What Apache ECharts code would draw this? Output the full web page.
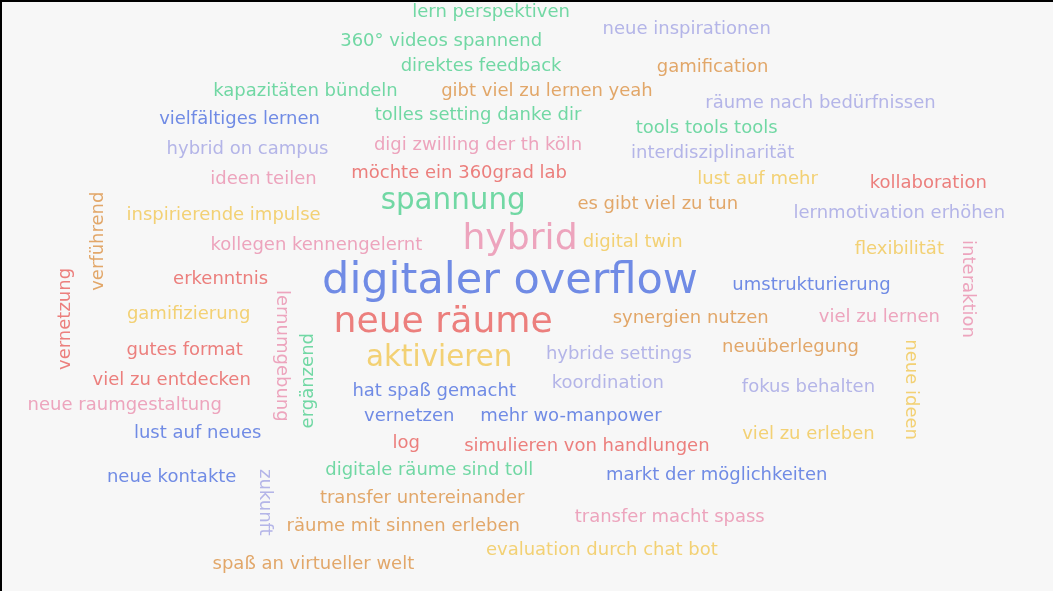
<!DOCTYPE html>
<html>
<head>
<meta charset="utf-8">
<script src="https://cdn.jsdelivr.net/npm/echarts@6/dist/echarts.min.js"></script>
<style>
html,body{margin:0;padding:0;background:#000;width:1053px;height:591px;overflow:hidden;}
#c{position:absolute;left:2px;top:2px;width:1051px;height:589px;background:#f7f7f7;filter:blur(0.7px);}
</style>
</head>
<body>
<div id="c"></div>
<script>
// words of the cloud
const words = [
 "lern perspektiven","neue inspirationen","360° videos spannend","direktes feedback","gamification",
 "kapazitäten bündeln","gibt viel zu lernen yeah","räume nach bedürfnissen","vielfältiges lernen","tolles setting danke dir",
 "tools tools tools","digi zwilling der th köln","hybrid on campus","interdisziplinarität","möchte ein 360grad lab",
 "ideen teilen","lust auf mehr","kollaboration","spannung","es gibt viel zu tun",
 "inspirierende impulse","lernmotivation erhöhen","hybrid","kollegen kennengelernt","digital twin",
 "flexibilität","erkenntnis","digitaler overflow","umstrukturierung","gamifizierung",
 "neue räume","synergien nutzen","viel zu lernen","gutes format","aktivieren",
 "hybride settings","neuüberlegung","viel zu entdecken","hat spaß gemacht","koordination",
 "fokus behalten","neue raumgestaltung","vernetzen","mehr wo-manpower","lust auf neues",
 "log","simulieren von handlungen","viel zu erleben","digitale räume sind toll","markt der möglichkeiten",
 "neue kontakte","transfer untereinander","räume mit sinnen erleben","transfer macht spass","evaluation durch chat bot",
 "spaß an virtueller welt","verführend","vernetzung","lernumgebung","ergänzend",
 "zukunft","interaktion","neue ideen"
];
// how often each word was named
const weights = [
 1,1,1,1,1, 1,1,1,1,1, 1,1,1,1,1, 1,1,1,6,1, 1,1,9,1,1, 1,1,12,1,1,
 9,1,1,1,6, 1,1,1,1,1, 1,1,1,1,1, 1,1,1,1,1, 1,1,1,1,1, 1,1,1,1,1, 1,1,1
];

// layout of the cloud (placement of each word in a 1053 x 591 frame): [x, y, rotation]
const layout = [
 [490,10,0],[686,27,0],[440,39,0],[480,65,0],[712,66,0],
 [304,90,0],[546,90,0],[820,102,0],[238,118,0],[477,114,0],
 [706,127,0],[477,144,0],[246,148,0],[712,152,0],[458,172,0],
 [262,178,0],[757,178,0],[928,182,0],[452,200,0],[657,203,0],
 [222,214,0],[899,212,0],[519,238,0],[315,244,0],[632,241,0],
 [899,248,0],[219,278,0],[509,281,0],[811,284,0],[187,313,0],
 [442,322,0],[690,317,0],[879,316,0],[183,350,0],[438,358,0],
 [618,354,0],[790,347,0],[170,380,0],[433,391,0],[607,383,0],
 [808,387,0],[123,405,0],[408,416,0],[570,416,0],[196,433,0],
 [405,443,0],[586,446,0],[808,434,0],[428,470,0],[716,475,0],
 [170,477,0],[421,498,0],[402,526,0],[669,517,0],[601,550,0],
 [312,564,0],[97,240,90],[63,318,90],[280,355,-90],[307,380,90],
 [263,502,-90],[968,288,-90],[910,389,-90]
];
const palette = {
 green:"#4fd08f", blue:"#4d6fe0", red:"#e8605e", pink:"#ea8fae",
 yellow:"#f1c753", orange:"#dc9245", lav:"#a3a4e4"
};
const colorOf = [
 "green","lav","green","green","orange",
 "green","orange","lav","blue","green",
 "green","pink","lav","lav","red",
 "pink","yellow","red","green","orange",
 "yellow","lav","pink","pink","yellow",
 "yellow","red","blue","blue","yellow",
 "red","orange","pink","red","yellow",
 "lav","orange","red","blue","lav",
 "lav","pink","blue","blue","blue",
 "red","red","yellow","green","blue",
 "blue","orange","orange","pink","yellow",
 "orange","orange","red","pink","green",
 "lav","pink","yellow"
];

const wMin = Math.min(...weights), wMax = Math.max(...weights);
const sizeScale = w => 18 + (w - wMin) / (wMax - wMin) * (43 - 18);

const data = words.map((w, i) => ({
  name: w,
  value: [layout[i][0], layout[i][1], weights[i]],
  label: {
    fontSize: sizeScale(weights[i]),
    color: palette[colorOf[i]],
    rotate: layout[i][2]
  }
}));

const chart = echarts.init(document.getElementById('c'), null, {renderer:'canvas'});
chart.setOption({
  backgroundColor: '#f7f7f7',
  animation: false,
  grid: {left: 0, right: 0, top: 0, bottom: 0},
  xAxis: {type: 'value', min: 0, max: 1053, show: false},
  yAxis: {type: 'value', min: 0, max: 591, inverse: true, show: false},
  series: [{
    type: 'scatter',
    symbolSize: 0,
    data: data,
    label: {
      show: true,
      position: 'inside',
      formatter: p => p.name,
      fontFamily: 'DejaVu Sans',
      fontWeight: 'normal'
    },
    labelLayout: {hideOverlap: false}
  }]
});
</script>
</body>
</html>
